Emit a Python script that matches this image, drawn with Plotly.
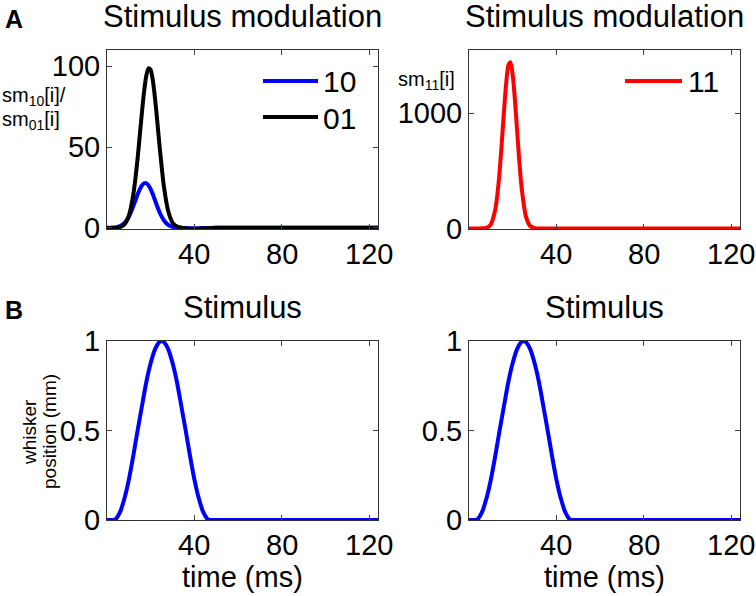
import plotly.graph_objects as go

# ---------------- data ----------------
t_mod = [0, 2, 4, 6, 8, 10, 12, 13, 14, 15, 16, 17, 18, 19, 20, 21, 22, 23, 24,
         26, 28, 30, 32, 34, 36, 38, 40, 42, 45, 50, 60, 80, 100, 124]
sm10 = [0, 0, 0.3, 1.1, 3.0, 6.9, 13.2, 16.9, 20.6, 23.8, 26.3, 27.6, 27.6, 26.3, 23.8,
        20.6, 16.9, 13.2, 9.8, 4.7, 1.8, 0.6, 0.15, 0, -0.1, -0.2, -0.2, -0.2, -0.1,
        0, 0, 0, 0, 0]
sm01 = [0, 0, 0.1, 0.5, 2.2, 7.6, 20.3, 30.4, 42.9, 57.1, 71.6, 84.6, 94.2, 98.7, 97.6,
        90.9, 79.7, 65.9, 51.3, 26.0, 10.4, 3.3, 0.8, 0.1, -0.4, -0.6, -0.7, -0.6, -0.3,
        0, 0, 0, 0, 0]
sm11 = [0, 0, 0, 0.5, 5, 36, 162, 297, 493, 743, 1015, 1259, 1416, 1444, 1335, 1120,
        852, 588, 368, 107, 21, 3, 0, 0, 0, 0, 0, 0, 0, 0, 0, 0, 0, 0]

t_stim = [0, 2, 3, 4, 6, 8, 10, 12, 14, 16, 18, 20, 22, 24, 25, 26, 28, 30, 32, 34,
          36, 38, 40, 42, 44, 46, 47, 48, 60, 80, 100, 124]
stim = [0, 0, 0, 0.005, 0.045, 0.121, 0.226, 0.357, 0.5, 0.637, 0.771, 0.877, 0.955,
        0.995, 1.0, 0.995, 0.955, 0.877, 0.771, 0.637, 0.5, 0.357, 0.226, 0.121, 0.045,
        0.005, 0, 0, 0, 0, 0, 0]

x_ticks = [40, 80, 120]
x_tick_labels = ["40", "80", "120"]
y_ticks_a1 = [0, 50, 100]
y_ticks_a2 = [0, 1000]
y_ticks_b = [0, 0.5, 1]
legend_a1 = ["10", "01"]
legend_a2 = ["11"]

BLUE = "#0000ff"
BLACK = "#000000"
RED = "#ff0000"
FONT = "Liberation Sans, Arial, Helvetica, sans-serif"

W, H = 756, 596


def px_x(p):
    return p / W


def px_y(p):
    return 1 - p / H


fig = go.Figure()
line_w = 4


def add_line(x, y, col, xa, ya):
    fig.add_trace(go.Scatter(x=x, y=y, mode="lines",
                             line=dict(color=col, width=line_w, shape="spline", smoothing=0.6),
                             xaxis=xa, yaxis=ya, showlegend=False, cliponaxis=False,
                             hoverinfo="skip"))


add_line(t_mod, sm10, BLUE, "x", "y")
add_line(t_mod, sm01, BLACK, "x", "y")
add_line(t_mod, sm11, RED, "x2", "y2")
add_line(t_stim, stim, BLUE, "x3", "y3")
add_line(t_stim, stim, BLUE, "x4", "y4")

colL = [px_x(107), px_x(378)]
colR = [px_x(469), px_x(740)]
rowT = [px_y(229), px_y(50)]
rowB = [px_y(520), px_y(341)]

tickfont = dict(family=FONT, size=29, color="black")


def xax(domain, anchor):
    # tick labels are drawn below as annotations placed on this axis' scale
    return dict(domain=domain, anchor=anchor, range=[0, 124], tickvals=x_ticks,
                ticks="inside", ticklen=5, tickcolor="#444", showline=True, linecolor="#333",
                linewidth=1, mirror="ticks", showgrid=False, zeroline=False,
                showticklabels=False, automargin=False)


def yax(domain, anchor, rng, ticks):
    return dict(domain=domain, anchor=anchor, range=rng, tickvals=ticks,
                ticks="inside", ticklen=5, tickcolor="#444", showline=True, linecolor="#333",
                linewidth=1, mirror="ticks", showgrid=False, zeroline=False, tickfont=tickfont,
                automargin=False)


fig.update_layout(
    width=W, height=H,
    margin=dict(l=0, r=0, t=0, b=0, autoexpand=False),
    paper_bgcolor="white", plot_bgcolor="white",
    xaxis=xax(colL, "y"),
    yaxis=yax(rowT, "x", [-0.7, 110], y_ticks_a1),
    xaxis2=xax(colR, "y2"),
    yaxis2=yax(rowT, "x2", [-5, 1550], y_ticks_a2),
    xaxis3=xax(colL, "y3"),
    yaxis3=yax(rowB, "x3", [0, 1], y_ticks_b),
    xaxis4=xax(colR, "y4"),
    yaxis4=yax(rowB, "x4", [0, 1], y_ticks_b),
    showlegend=False,
)

ann = []


def text(x, y, s, size, xanchor="center", yanchor="middle", bold=False, angle=0, xref="paper"):
    ann.append(dict(x=px_x(x) if xref == "paper" else x, y=px_y(y), xref=xref, yref="paper",
                    text=("<b>%s</b>" % s) if bold else s,
                    showarrow=False, xanchor=xanchor, yanchor=yanchor, textangle=angle,
                    font=dict(family=FONT, size=size, color="black")))


# x tick labels, positioned on each x axis' own scale
for xa, ypix in [("x", 254), ("x2", 254), ("x3", 545), ("x4", 545)]:
    for v, lab in zip(x_ticks, x_tick_labels):
        text(v, ypix, lab, 29, xref=xa)

# titles
text(242.5, 17, "Stimulus modulation", 31)
text(604.5, 17, "Stimulus modulation", 31)
text(242.5, 307, "Stimulus", 31)
text(604.5, 307, "Stimulus", 31)
# x-axis titles
text(242.5, 577, "time (ms)", 29)
text(604.5, 577, "time (ms)", 29)
# panel letters
text(3, 19, "A", 25, xanchor="left", bold=True)
text(3, 310, "B", 25, xanchor="left", bold=True)
# y labels
text(0, 96, "sm<sub>10</sub>[i]/", 20, xanchor="left")
text(0, 121, "sm<sub>01</sub>[i]", 20, xanchor="left")
text(396, 80, "sm<sub>11</sub>[i]", 20, xanchor="left")
text(29, 432, "whisker", 19, angle=-90)
text(49, 432, "position (mm)", 19, angle=-90)

# legends (drawn manually to mimic MATLAB legend)
shapes = []
for i, (lab, col) in enumerate(zip(legend_a1, [BLUE, BLACK])):
    yy = 81 + 36 * i
    shapes.append(dict(type="line", xref="paper", yref="paper", x0=px_x(263), x1=px_x(318),
                       y0=px_y(yy), y1=px_y(yy), line=dict(color=col, width=line_w)))
    text(321, yy + 1, lab, 30, xanchor="left")
for lab, col in zip(legend_a2, [RED]):
    yy = 81
    shapes.append(dict(type="line", xref="paper", yref="paper", x0=px_x(625), x1=px_x(682),
                       y0=px_y(yy), y1=px_y(yy), line=dict(color=col, width=line_w)))
    text(686, yy + 1, lab, 30, xanchor="left")

fig.update_layout(annotations=ann, shapes=shapes)
fig.write_html(
    "out.html",
    config={"displayModeBar": False},
    post_script=("document.body.style.margin='0';"
                 "document.body.style.overflow='hidden';"
                 "document.documentElement.style.overflow='hidden';"),
)
